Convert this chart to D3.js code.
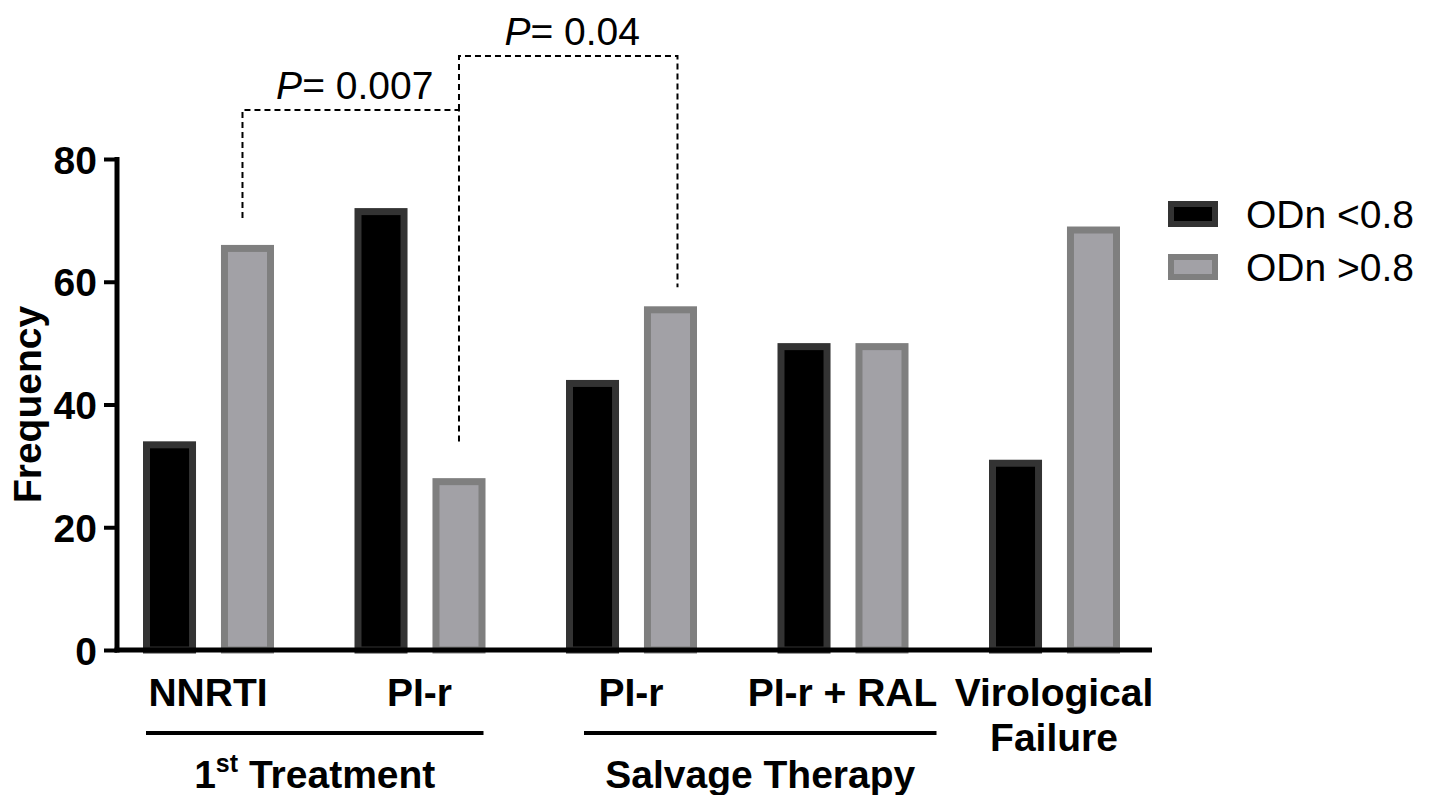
<!DOCTYPE html>
<html>
<head>
<meta charset="utf-8">
<script src="https://cdn.jsdelivr.net/npm/d3@7"></script>
<style>
  body { margin: 0; background: #fff; }
  svg { display: block; font-family: "Liberation Sans", Arial, sans-serif; }
  .axis text { font-size: 39px; font-weight: bold; fill: #000; }
  .cat-label { font-size: 39px; font-weight: bold; }
  .legend-label { font-size: 39px; }
  .p-label { font-size: 39px; }
</style>
</head>
<body>
<div id="chart"></div>
<script>
// data
const categoryIds = ['nnrti', 'pir1', 'pir2', 'pirral', 'vf'];
const categoryLabels = [['NNRTI'], ['PI-r'], ['PI-r'], ['PI-r + RAL'], ['Virological', 'Failure']];
const seriesIds = ['lo', 'hi'];
const seriesLabels = ['ODn <0.8', 'ODn >0.8'];
const valuesLow = [34, 72, 44, 50, 31];
const valuesHigh = [66, 28, 56, 50, 69];
const yTicks = [0, 20, 40, 60, 80];
const groupNames = ['1st Treatment', 'Salvage Therapy'];
const groupMembers = [['nnrti', 'pir1'], ['pir2', 'pirral']];
const pLabels = ['0.007', '0.04'];
const pFrom = ['nnrti', 'pir1'];
const pTo = ['pir1', 'pir2'];
const pTop = [88, 96.8];
const pDropFrom = [70.4, 88];
const pDropTo = [33.7, 59.1];

// layout
const width = 1431;
const height = 795;
const axisX = 117;
const axisEndX = 1152;
const fills = { lo: '#000000', hi: '#a2a1a6' };
const strokes = { lo: '#333333', hi: '#7f7f7f' };
const barStroke = 7;
// extent of the group underline past the first / last bar centres
const groupPad = [[-62, 64], [-47, 94]];
// small horizontal nudge of bracket ends from the bar centres
const bracketDx = [[-5, 0], [0, 7]];

const svg = d3.select('#chart').append('svg')
  .attr('width', width)
  .attr('height', height);

const y = d3.scaleLinear().domain([0, 80]).range([650, 159]);

const x = d3.scaleBand()
  .domain(categoryIds)
  .range([102.25, 1159.75])
  .padding(0);

const xSub = d3.scaleBand()
  .domain(seriesIds)
  .range([40.75, 171.75])
  .paddingInner(0.32)
  .paddingOuter(0);

const center = (cat, s) => x(cat) + xSub(s) + xSub.bandwidth() / 2;
const catCenter = (cat) => x(cat) + x.bandwidth() / 2;

const rows = categoryIds.map((id, i) => ({ id, lo: valuesLow[i], hi: valuesHigh[i] }));

// bars
const bars = svg.append('g');
rows.forEach((row) => {
  seriesIds.forEach((s) => {
    const v = row[s];
    bars.append('rect')
      .attr('x', x(row.id) + xSub(s) + barStroke / 2)
      .attr('y', y(v) + barStroke / 2)
      .attr('width', xSub.bandwidth() - barStroke)
      .attr('height', y(0) - y(v) - barStroke / 2)
      .attr('fill', fills[s])
      .attr('stroke', strokes[s])
      .attr('stroke-width', barStroke);
  });
});

// y axis
const yAxis = d3.axisLeft(y)
  .tickValues(yTicks)
  .tickSize(13)
  .tickSizeOuter(0)
  .tickPadding(7);
const yg = svg.append('g')
  .attr('class', 'axis')
  .attr('transform', `translate(${axisX},0)`)
  .call(yAxis);
yg.select('.domain').attr('stroke-width', 5).attr('d', `M0,${y(80) - 2}V${y(0) + 2.5}`);
yg.selectAll('.tick line').attr('stroke-width', 4);
yg.selectAll('.tick text').attr('dy', '0.36em');

// x axis line
svg.append('line')
  .attr('x1', axisX - 2.5)
  .attr('x2', axisEndX)
  .attr('y1', y(0))
  .attr('y2', y(0))
  .attr('stroke', '#000')
  .attr('stroke-width', 5);

// category labels
categoryIds.forEach((id, i) => {
  const t = svg.append('text')
    .attr('class', 'cat-label')
    .attr('text-anchor', 'middle')
    .attr('x', catCenter(id))
    .attr('y', 706);
  categoryLabels[i].forEach((line, j) => {
    t.append('tspan')
      .attr('x', catCenter(id))
      .attr('dy', j === 0 ? 0 : 45)
      .text(line);
  });
});

// group underlines and labels
groupNames.forEach((name, i) => {
  const members = groupMembers[i];
  const x1 = catCenter(members[0]) + groupPad[i][0];
  const x2 = catCenter(members[members.length - 1]) + groupPad[i][1];
  svg.append('line')
    .attr('x1', x1).attr('x2', x2)
    .attr('y1', 733).attr('y2', 733)
    .attr('stroke', '#000')
    .attr('stroke-width', 4);
  const t = svg.append('text')
    .attr('class', 'cat-label')
    .attr('text-anchor', 'middle')
    .attr('x', (x1 + x2) / 2)
    .attr('y', 788);
  const m = name.match(/^(\d+)(st|nd|rd|th) (.*)$/);
  if (m) {
    t.append('tspan').text(m[1]);
    t.append('tspan').attr('font-size', '25px').attr('dy', -16).text(m[2]);
    t.append('tspan').attr('dy', 16).text(' ' + m[3]);
  } else {
    t.text(name);
  }
});

// y label
svg.append('text')
  .attr('class', 'cat-label')
  .attr('text-anchor', 'middle')
  .attr('transform', `translate(41,${y(40)}) rotate(-90)`)
  .text('Frequency');

// p-value brackets
pLabels.forEach((p, i) => {
  const xa = center(pFrom[i], 'hi') + bracketDx[i][0];
  const xb = center(pTo[i], 'hi') + bracketDx[i][1];
  svg.append('path')
    .attr('d', `M${xa},${y(pDropFrom[i])}V${y(pTop[i])}H${xb}V${y(pDropTo[i])}`)
    .attr('fill', 'none')
    .attr('stroke', '#000')
    .attr('stroke-width', 2)
    .attr('stroke-dasharray', '6,4');
  const t = svg.append('text')
    .attr('class', 'p-label')
    .attr('text-anchor', 'middle')
    .attr('x', (xa + xb) / 2 + 4)
    .attr('y', y(pTop[i]) - 11);
  t.append('tspan').attr('font-style', 'italic').text('P');
  t.append('tspan').text('= ' + p);
});

// legend
const legend = svg.append('g').attr('transform', 'translate(1168,201)');
seriesIds.forEach((s, i) => {
  const g = legend.append('g').attr('transform', `translate(0,${i * 53})`);
  g.append('rect')
    .attr('x', 3).attr('y', 3)
    .attr('width', 44).attr('height', 20)
    .attr('fill', fills[s])
    .attr('stroke', strokes[s])
    .attr('stroke-width', 6);
  g.append('text')
    .attr('class', 'legend-label')
    .attr('x', 78)
    .attr('y', 27)
    .text(seriesLabels[i]);
});
</script>
</body>
</html>
